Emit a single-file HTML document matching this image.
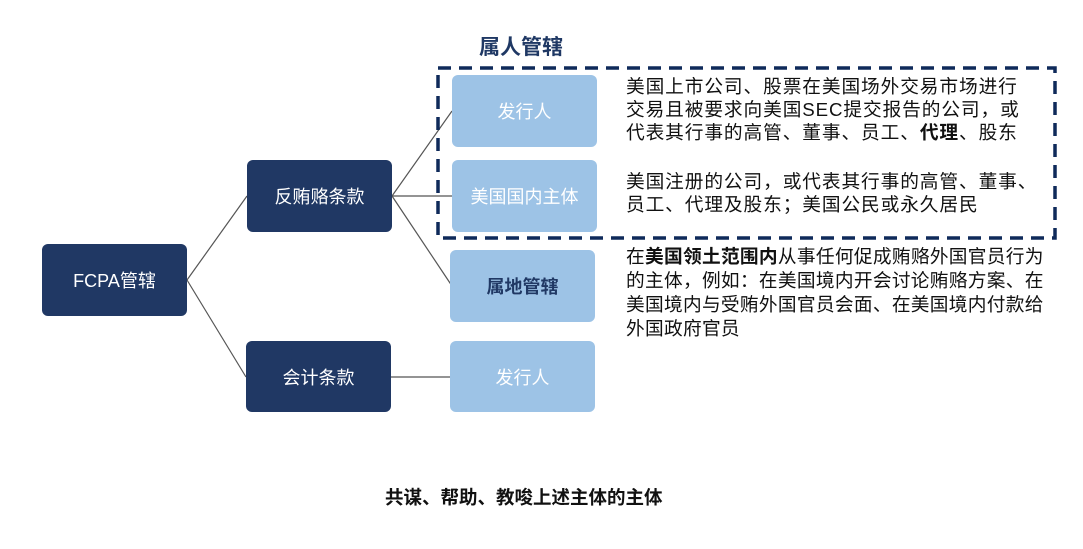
<!DOCTYPE html>
<html><head><meta charset="utf-8"><style>
body{margin:0;width:1083px;height:549px;background:#fff;position:relative;overflow:hidden;font-family:"Liberation Sans","Noto Sans CJK SC",sans-serif}
.b{position:absolute;border-radius:6px;display:flex;align-items:center;justify-content:center;font-size:18px}
.d{background:#203864;color:#fff}
.l{background:#9dc3e6;color:#fff}
.t{position:absolute;font-size:18.7px;line-height:23px;color:#111;left:626px;white-space:nowrap;letter-spacing:0.9px}
</style></head><body>
<svg width="1083" height="549" style="position:absolute;left:0;top:0">
<g stroke="#555" stroke-width="1.2" fill="none">
<line x1="187" y1="280" x2="247" y2="196"/><line x1="187" y1="280" x2="246" y2="377"/>
<line x1="392" y1="196" x2="452" y2="111"/><line x1="392" y1="196" x2="452" y2="196"/>
<line x1="392" y1="196" x2="452" y2="286"/><line x1="391" y1="377" x2="452" y2="377"/>
</g>
<rect x="438" y="68" width="617" height="170" fill="none" stroke="#0f2a5a" stroke-width="3.5" stroke-dasharray="13,8"/>
</svg>
<div class="b d" style="left:42px;top:244px;width:145px;height:72px">FCPA管辖</div>
<div class="b d" style="left:247px;top:160px;width:145px;height:72px">反贿赂条款</div>
<div class="b d" style="left:246px;top:341px;width:145px;height:71px">会计条款</div>
<div class="b l" style="left:452px;top:75px;width:145px;height:72px">发行人</div>
<div class="b l" style="left:452px;top:160px;width:145px;height:72px">美国国内主体</div>
<div class="b l" style="left:450px;top:250px;width:145px;height:72px;color:#203864;font-weight:bold">属地管辖</div>
<div class="b l" style="left:450px;top:341px;width:145px;height:71px">发行人</div>
<div style="position:absolute;left:479px;top:31px;font-size:21px;font-weight:bold;color:#1f3864">属人管辖</div>
<div class="t" style="top:75px">美国上市公司、股票在美国场外交易市场进行<br>交易且被要求向美国SEC提交报告的公司，或<br>代表其行事的高管、董事、员工、<b>代理</b>、股东</div>
<div class="t" style="top:170px">美国注册的公司，或代表其行事的高管、董事、<br>员工、代理及股东；美国公民或永久居民</div>
<div class="t" style="top:245px;line-height:24px;letter-spacing:0.3px">在<b>美国领土范围内</b>从事任何促成贿赂外国官员行为<br>的主体，例如：在美国境内开会讨论贿赂方案、在<br>美国境内与受贿外国官员会面、在美国境内付款给<br>外国政府官员</div>
<div style="position:absolute;left:385px;top:484px;font-size:18.5px;font-weight:bold;color:#111;white-space:nowrap">共谋、帮助、教唆上述主体的主体</div>
</body></html>
